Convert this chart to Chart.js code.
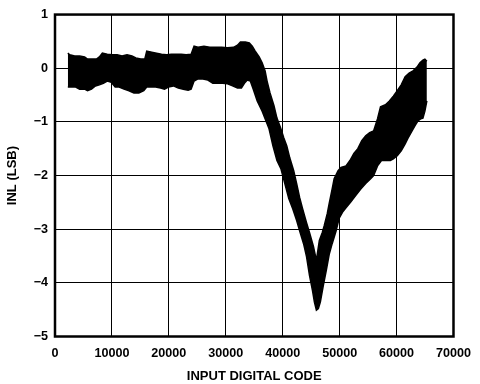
<!DOCTYPE html>
<html>
<head>
<meta charset="utf-8">
<script src="https://cdn.jsdelivr.net/npm/chart.js@4/dist/chart.umd.min.js"></script>
<style>
  html, body { margin: 0; padding: 0; background: #ffffff; }
  #wrap { width: 480px; height: 384px; }
</style>
</head>
<body>
<div id="wrap"><canvas id="c" width="480" height="384"></canvas></div>
<script>
// ---- Data (upper and lower edges of the INL band) ----
const codesUpper = [2252,2599,3465,4332,5198,5718,6411,7277,7797,8317,9183,10049,10916,11782,12649,13515,14208,15074,15768,16114,16980,17847,18713,19580,20446,21312,22179,23045,23911,24431,25124,26164,27203,28243,29283,30322,31362,32055,32575,33441,34134,34654,35174,35867,36387,36907,37253,37773,38466,38986,39679,40199,40718,41238,41931,42451,42971,43491,44184,44704,45397,45917,46436,46956,47303,47823,48169,48689,49035,49728,50248,51115,51808,52501,53194,53887,54580,55273,55966,56659,57179,58045,58739,59432,60125,60818,61511,62204,62897,63590,64110,64630,64976,65323];
const inlUpper = [0.28,0.25,0.23,0.23,0.21,0.17,0.17,0.17,0.21,0.28,0.26,0.25,0.25,0.23,0.25,0.23,0.19,0.17,0.17,0.32,0.30,0.28,0.26,0.25,0.26,0.26,0.26,0.25,0.26,0.41,0.39,0.41,0.39,0.39,0.39,0.38,0.39,0.43,0.49,0.49,0.47,0.41,0.32,0.21,0.10,-0.05,-0.24,-0.46,-0.70,-0.93,-1.13,-1.30,-1.45,-1.67,-1.91,-2.15,-2.41,-2.62,-2.88,-3.06,-3.32,-3.58,-3.21,-3.06,-2.93,-2.71,-2.52,-2.25,-2.06,-1.91,-1.85,-1.82,-1.72,-1.59,-1.50,-1.35,-1.26,-1.20,-1.17,-0.94,-0.72,-0.68,-0.61,-0.52,-0.42,-0.31,-0.16,-0.09,-0.05,0.02,0.10,0.15,0.17,0.13];

const codesLower = [2252,2946,3639,4332,5198,5718,6411,7104,7797,8490,9183,9876,10569,11263,12129,12995,13862,14728,15594,16114,16807,17674,18540,19233,19926,20792,21659,22525,23391,23911,24431,25124,25991,26857,27723,28590,29456,30322,31189,32055,32748,33268,33788,34307,34827,35520,36387,36907,37600,38293,38986,39679,40372,41065,41758,42451,42971,43664,44184,44704,45224,45570,45917,46263,46610,47130,47649,48169,48689,49382,49902,50595,51115,51981,52848,53714,54580,55446,55966,56659,57352,58045,58911,59432,60125,60818,61511,62031,62724,63244,63763,64283,64630,64976,65323];
const inlLower = [-0.35,-0.35,-0.35,-0.39,-0.39,-0.42,-0.39,-0.33,-0.31,-0.28,-0.24,-0.26,-0.35,-0.35,-0.39,-0.42,-0.46,-0.46,-0.42,-0.35,-0.35,-0.35,-0.37,-0.39,-0.35,-0.33,-0.37,-0.39,-0.41,-0.39,-0.24,-0.20,-0.20,-0.22,-0.28,-0.28,-0.28,-0.29,-0.33,-0.37,-0.37,-0.28,-0.22,-0.24,-0.39,-0.61,-0.80,-0.94,-1.13,-1.45,-1.72,-1.87,-2.15,-2.43,-2.62,-2.84,-3.03,-3.27,-3.51,-3.86,-4.14,-4.36,-4.51,-4.48,-4.36,-4.05,-3.77,-3.47,-3.27,-3.03,-2.80,-2.67,-2.60,-2.49,-2.37,-2.25,-2.15,-2.06,-2.00,-1.82,-1.72,-1.72,-1.72,-1.69,-1.63,-1.54,-1.41,-1.30,-1.17,-1.07,-0.98,-0.94,-0.93,-0.80,-0.61];

const xTicks = [0,10000,20000,30000,40000,50000,60000,70000];
const yTicks = [1,0,-1,-2,-3,-4,-5];
const xTitle = 'INPUT DIGITAL CODE';
const yTitle = 'INL (LSB)';

const toPts = (xs, ys) => xs.map((x, i) => ({x: x, y: ys[i]}));

const framePlugin = {
  id: 'frame',
  afterDraw(chart) {
    const a = chart.chartArea, ctx = chart.ctx;
    ctx.save();
    ctx.strokeStyle = '#000';
    ctx.lineWidth = 2.5;
    ctx.strokeRect(a.left, a.top, a.right - a.left, a.bottom - a.top);
    ctx.restore();
  }
};

const FONT = 'Liberation Sans, Arial, Helvetica, sans-serif';

new Chart(document.getElementById('c'), {
  type: 'line',
  data: {
    datasets: [
      {
        data: toPts(codesUpper, inlUpper),
        borderColor: '#000',
        borderWidth: 1.5,
        pointRadius: 0,
        tension: 0,
        fill: false
      },
      {
        data: toPts(codesLower, inlLower),
        borderColor: '#000',
        borderWidth: 1.5,
        backgroundColor: '#000',
        pointRadius: 0,
        tension: 0,
        fill: '-1'
      }
    ]
  },
  options: {
    responsive: false,
    animation: false,
    devicePixelRatio: 1,
    layout: { padding: { top: 13.5, right: 21, left: 0, bottom: 0 } },
    plugins: { legend: { display: false }, tooltip: { enabled: false } },
    scales: {
      x: {
        type: 'linear',
        min: 0, max: 70000,
        afterBuildTicks(s) { s.ticks = xTicks.map(v => ({value: v})); },
        afterFit(s) { s.height = 47.5; },
        grid: { color: '#000', lineWidth: 1, drawTicks: false },
        border: { display: false },
        ticks: {
          padding: 9,
          color: '#000',
          maxRotation: 0,
          autoSkip: false,
          font: { family: FONT, size: 12.6, weight: 'bold' },
          callback: v => String(v)
        },
        title: {
          display: true,
          text: xTitle,
          color: '#000',
          font: { family: FONT, size: 13, weight: 'bold' },
          padding: { top: 1.5, bottom: 0 }
        }
      },
      y: {
        type: 'linear',
        min: -5, max: 1,
        afterBuildTicks(s) { s.ticks = yTicks.map(v => ({value: v})); },
        afterFit(s) { s.width = 55; },
        grid: { color: '#000', lineWidth: 1, drawTicks: false },
        border: { display: false },
        ticks: {
          padding: 7,
          color: '#000',
          autoSkip: false,
          font: { family: FONT, size: 12.6, weight: 'bold' },
          callback: v => (v < 0 ? '\u2212' + Math.abs(v) : String(v))
        },
        title: {
          display: true,
          text: yTitle,
          color: '#000',
          font: { family: FONT, size: 13, weight: 'bold' },
          padding: { top: 5, bottom: 0 }
        }
      }
    }
  },
  plugins: [framePlugin]
});
</script>
</body>
</html>
